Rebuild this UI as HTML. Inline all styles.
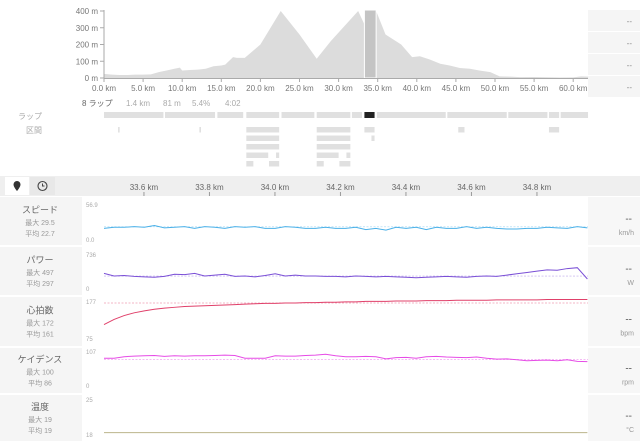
<!DOCTYPE html>
<html><head><meta charset="utf-8">
<style>
body{margin:0;width:640px;height:441px;overflow:hidden;background:#fff;font-family:"Liberation Sans","Noto Sans CJK JP",sans-serif;}
svg{display:block}
</style></head>
<body>
<svg id="c" width="640" height="441" xmlns="http://www.w3.org/2000/svg"></svg>
<script>
// ---- data ----
const elevKm = [0,1,2,3,4,5,6,7,8,9,9.7,10,11,12,13,14,15,15.5,16.5,17,18,20,22.6,25,27.2,29,32.5,33.3,33.6,34.8,36,38,39.4,40.4,41.7,43,44.2,45.5,46.8,48,49.4,50.6,52,53.2,55,58.3,60,61,61.9];
const elevM  = [25,20,18,18,20,20,22,35,45,55,62,45,48,50,55,70,75,80,125,120,120,200,400,260,115,220,400,320,310,400,260,200,125,130,110,85,75,60,55,45,35,10,8,5,6,3,4,10,8];
const elevTicks = [0,100,200,300,400];
const kmTicks = [0,5,10,15,20,25,30,35,40,45,50,55,60];
const detailTicks = [33.6,33.8,34.0,34.2,34.4,34.6,34.8];
const dist = [];
for (let i=0;i<=48;i++) dist.push(33.478+i*0.03075);
const speed = [20,22,22,23,22,25,21,22,23,20,23,22,20,23,22,23,20,20,23,22,20,20,22,20,20,22,18,20,17,22,20,22,18,22,20,20,23,20,22,20,19,19,20,20,22,21,20,23,21];
const power = [360,300,310,290,280,270,290,340,330,360,300,320,340,290,300,280,310,350,300,320,300,300,290,290,280,300,290,280,290,280,270,260,270,280,290,280,270,290,300,290,320,350,380,410,440,430,470,490,230];
const hr = [122,135,145,152,157,161,164,166,168,169,170,171,172,173,174,175,176,176,177,177,178,178,179,179,180,180,181,181,181,182,182,182,183,183,183,184,184,184,184,185,185,185,185,185,186,186,186,186,186];
const cad = [90,90,95,97,98,99,96,98,97,98,98,99,100,99,90,90,90,98,97,97,99,100,103,98,95,95,96,95,88,92,93,90,95,96,94,93,92,94,90,87,88,85,82,83,84,82,85,80,79];
const temp = [19,19,19,19,19,19,19,19,19,19,19,19,19,19,19,19,19,19,19,19,19,19,19,19,19,19,19,19,19,19,19,19,19,19,19,19,19,19,19,19,19,19,19,19,19,19,19,19,19];
const laps = [[0,7.6],[7.8,14.2],[14.5,17.8],[18.2,22.4],[22.7,26.9],[27.2,31.5],[31.7,33.0],[33.3,34.6],[34.9,43.7],[43.9,51.5],[51.7,56.7],[56.9,58.2],[58.4,61.9]];
const segRows = [
 [[18.2,22.4],[27.2,31.5],[33.3,34.6],[45.3,46.1],[56.9,58.2],[1.8,2.0],[12.2,12.4]],
 [[18.2,22.4],[27.2,31.5],[34.2,34.6]],
 [[18.2,22.4],[27.2,31.5]],
 [[18.2,21.0],[22.0,22.4],[27.2,30.0],[31.0,31.5]],
 [[18.2,19.1],[21.1,22.4],[27.2,28.1],[30.1,31.5]]
];
// ---- helpers ----
const S=document.getElementById('c'),NS='http://www.w3.org/2000/svg';
function el(t,a,p){const e=document.createElementNS(NS,t);for(const k in a)e.setAttribute(k,a[k]);(p||S).appendChild(e);return e;}
function tx(x,y,s,sz,col,anc){const e=el('text',{x:x,y:y,'font-size':sz,fill:col,'text-anchor':anc||'start'});e.textContent=s;return e;}
const ex=km=>104+km*7.82, ey=m=>78-m*0.1675;
// elevation
let d='M'+ex(elevKm[0])+','+ey(0);
elevKm.forEach((k,i)=>d+=' L'+ex(k)+','+ey(elevM[i]));
d+=' L'+ex(elevKm[elevKm.length-1])+','+ey(0)+'Z';
const ea=el('path',{d:d,fill:'#dcdcdc'});


const sel=el('rect',{x:ex(33.3),y:10,width:ex(34.8)-ex(33.3),height:68,fill:'#c4c4c4',stroke:'#fff','stroke-width':1});


el('line',{x1:104,y1:10,x2:104,y2:79,stroke:'#aaa'});
el('line',{x1:104,y1:78.5,x2:588,y2:78.5,stroke:'#aaa'});
elevTicks.forEach(v=>{el('line',{x1:100,x2:104,y1:ey(v),y2:ey(v),stroke:'#aaa'});
 const t=tx(98,ey(v)+3,v+' m',8,'#777','end');});
kmTicks.forEach(v=>{el('line',{x1:ex(v),x2:ex(v),y1:78,y2:82,stroke:'#aaa'});
 const t=tx(ex(v),91,v.toFixed(1)+' km',8,'#777','middle');});
// right stat boxes
for(let i=0;i<4;i++){el('rect',{x:588,y:10+i*22,width:52,height:21,fill:'#f5f5f5'});tx(632,24+i*22,'--',8,'#888','end');}
// lap summary
const ls=tx(82,106,'8 ラップ',8,'#666');
tx(126,106,'1.4 km',8,'#aaa');tx(163,106,'81 m',8,'#aaa');tx(192,106,'5.4%',8,'#aaa');tx(225,106,'4:02',8,'#aaa');
tx(42,119,'ラップ',8,'#aaa','end');tx(42,133,'区間',8,'#aaa','end');
laps.forEach((l,i)=>{const r=el('rect',{x:ex(l[0]),y:112,width:ex(l[1])-ex(l[0]),height:6,fill:i==7?'#222':'#e0e0e0'});
 });
segRows.forEach((row,j)=>row.forEach(s=>{const r=el('rect',{x:ex(s[0]),y:127+j*8.5,width:ex(s[1])-ex(s[0]),height:5.5,fill:'#e0e0e0'});
 }));
// toolbar
el('rect',{x:0,y:176,width:640,height:20,fill:'#efefef'});
const b1=el('rect',{x:5,y:177,width:24,height:18,fill:'#fff'});
el('path',{d:'M17,181 a3.5,3.5 0 0 1 3.5,3.5 c0,2.5 -3.5,6.5 -3.5,6.5 c0,0 -3.5,-4 -3.5,-6.5 a3.5,3.5 0 0 1 3.5,-3.5z',fill:'#333'});
const b2=el('rect',{x:30,y:177,width:25,height:18,fill:'#e8e8e8'});
el('circle',{cx:42.5,cy:186,r:4.5,fill:'none',stroke:'#444','stroke-width':1.1});
el('path',{d:'M42.5,183.5 V186 H44.5',fill:'none',stroke:'#444','stroke-width':1});
const dx=k=>104+(k-33.478)*327.5;
detailTicks.forEach(v=>{el('line',{x1:dx(v),x2:dx(v),y1:192,y2:196,stroke:'#999'});
 const t=tx(dx(v),190,v.toFixed(1)+' km',8,'#666','middle');});
// panels
function panel(name,y0,y1,title,mx,av,unit,arr,vmin,vmax,ytop,ybot,col,avg,lblTop,lblBot){
 el('rect',{x:0,y:y0,width:82,height:y1-y0,fill:'#f5f5f5'});
 const g=el('rect',{x:82,y:y0,width:506,height:y1-y0,fill:'#fff'});
 
 el('rect',{x:588,y:y0,width:52,height:y1-y0,fill:'#f7f7f7'});
 const mid=(y0+y1)/2;
 tx(40,mid-8,title,9,'#666','middle');
 tx(40,mid+4,'最大 '+mx,7,'#999','middle');
 tx(40,mid+15,'平均 '+av,7,'#999','middle');
 tx(632,mid+1,'--',10,'#555','end');
 tx(634,mid+14,unit,7,'#999','end');
 const yy=v=>ybot-(v-vmin)/(vmax-vmin)*(ybot-ytop);
 tx(86,lblTop[1],lblTop[0],6,'#aaa');tx(86,lblBot[1],lblBot[0],6,'#aaa');
 if(avg!=null) el('line',{x1:104,x2:588,y1:yy(avg),y2:yy(avg),stroke:col,'stroke-width':0.7,'stroke-dasharray':'2,1.5',opacity:0.5});
 const p=el('polyline',{points:arr.map((v,i)=>dx(dist[i])+','+yy(v)).join(' '),fill:'none',stroke:col,'stroke-width':1});
 
}
panel('speed',197,245,'スピード','29.5','22.7','km/h',speed,0,56.9,207,240,'#4ab0e8',22.7,['56.9',207],['0.0',242]);
panel('power',247,295,'パワー','497','297','W',power,0,736,257,289,'#7a4fd6',297,['736',257],['0',291]);
panel('heart-rate',297,346,'心拍数','172','161','bpm',hr,75,177,303,343,'#e0406a',177,['177',304],['75',341]);
panel('cadence',348,393,'ケイデンス','100','86','rpm',cad,0,107,353,386,'#e64ce6',86,['107',354],['0',388]);
panel('temperature',395,441,'温度','19','19','°C',temp,18,25,400,438,'#bcb48c',null,['25',402],['18',437]);
</script>
</body></html>
